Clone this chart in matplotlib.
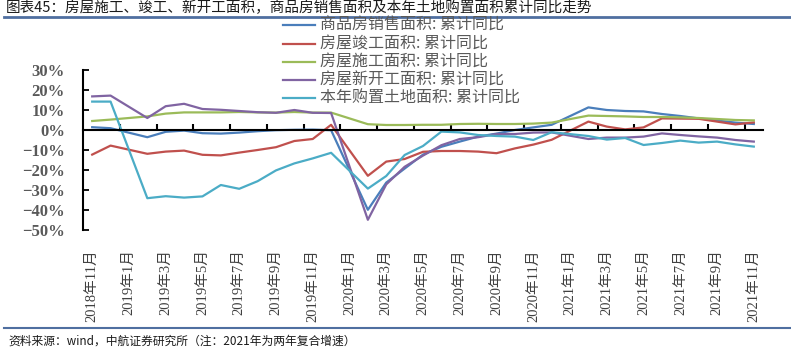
import numpy as np
import matplotlib
matplotlib.use("Agg")
import matplotlib.pyplot as plt
from matplotlib.lines import Line2D

nan = np.nan

# category axis: 2018-11 .. 2021-11, January has no data (Jan-Feb cumulative)
months = []
for y in (2018, 2019, 2020, 2021):
    for m in range(1, 13):
        if (y == 2018 and m < 11) or (y == 2021 and m > 11):
            continue
        months.append(f"{y}年{m}月")

sales = [1.4, 0.9, nan, -3.6, -0.9, -0.3, -1.6, -1.8, -1.3, -0.6, -0.1, 0.1, 0.2, -0.1,
         nan, -39.9, -26.3, -19.3, -12.3, -8.4, -5.8, -3.3, -1.8, 0.0, 1.3, 2.6,
         nan, 11.3, 10.0, 9.5, 9.3, 8.0, 7.0, 5.8, 4.7, 3.7, 3.0]
completed = [-12.3, -7.8, nan, -11.9, -10.8, -10.3, -12.4, -12.7, -11.3, -10.0, -8.6, -5.5, -4.5, 2.6,
             nan, -22.9, -15.8, -14.5, -10.9, -10.5, -10.5, -10.8, -11.6, -9.2, -7.3, -4.9,
             nan, 4.2, 1.7, 0.3, 1.3, 5.8, 5.7, 5.6, 4.2, 2.8, 3.8]
under_constr = [4.5, 5.2, nan, 6.8, 8.2, 8.8, 8.8, 8.8, 9.0, 8.8, 8.7, 9.0, 8.7, 8.7,
                nan, 2.9, 2.5, 2.5, 2.6, 2.6, 3.0, 3.1, 3.0, 3.0, 3.2, 3.7,
                nan, 7.2, 7.0, 6.8, 6.5, 6.5, 6.3, 6.0, 5.5, 5.0, 4.8]
new_starts = [16.8, 17.2, nan, 6.0, 11.9, 13.1, 10.5, 10.1, 9.5, 8.9, 8.6, 10.0, 8.6, 8.5,
              nan, -44.9, -27.2, -18.4, -12.8, -7.6, -4.5, -3.6, -2.0, -2.0, -1.3, -1.2,
              nan, -4.5, -3.8, -3.8, -3.3, -1.7, -2.5, -3.2, -3.8, -5.0, -5.8]
land = [14.2, 14.2, nan, -34.1, -33.1, -33.8, -33.2, -27.5, -29.4, -25.6, -20.2, -16.7, -14.2, -11.4,
        nan, -29.3, -23.0, -12.5, -8.0, -0.8, -1.2, -2.5, -3.0, -3.3, -5.0, -1.1,
        nan, -3.0, -4.8, -4.0, -7.5, -6.5, -5.3, -6.3, -5.8, -7.2, -8.3]

series = [
    ("商品房销售面积: 累计同比", sales, "#4A7EBB"),
    ("房屋竣工面积: 累计同比", completed, "#C0504D"),
    ("房屋施工面积: 累计同比", under_constr, "#9BBB59"),
    ("房屋新开工面积: 累计同比", new_starts, "#8064A2"),
    ("本年购置土地面积: 累计同比", land, "#4BACC6"),
]

title = "图表45：房屋施工、竣工、新开工面积，商品房销售面积及本年土地购置面积累计同比走势"
source = "资料来源：wind，中航证券研究所（注：2021年为两年复合增速）"

cjk = ["Noto Sans CJK SC", "DejaVu Sans"]
serif_cjk = ["Liberation Serif", "Noto Sans CJK SC"]
plt.rcParams["font.family"] = cjk

W, H = 791, 356
fig = plt.figure(figsize=(W / 100, H / 100), dpi=100)
ax = fig.add_axes([83 / W, 1 - 230 / H, 680 / W, 160 / H])

x = np.arange(len(months))
for name, vals, col in series:
    v = np.array(vals, dtype=float)
    ok = ~np.isnan(v)
    ax.plot(x[ok], v[ok], color=col, lw=1.6, solid_joinstyle="round")

ax.set_xlim(-0.5, len(months) - 0.5)
ax.set_ylim(-50, 30)

# y axis
ax.set_yticks(np.arange(-50, 31, 10))
ax.set_yticklabels([f"{v}%".replace("-", "−") for v in range(-50, 31, 10)],
                   family=serif_cjk, fontsize=12, color="#595959", fontweight="bold")
ax.tick_params(axis="y", direction="in", length=4, width=1.3, pad=13)
ax.spines["left"].set_linewidth(1.5)

# x axis: the line sits at zero, labels stay at the bottom
ax.spines["bottom"].set_visible(False)
ax.spines["right"].set_visible(False)
ax.spines["top"].set_position(("data", 0))
ax.spines["top"].set_linewidth(1.5)
ax.set_xticks(x[::2])
ax.set_xticklabels(months[::2], rotation=90, family=serif_cjk, fontsize=10.5,
                   color="#404040", va="top")
ax.set_xticks(np.arange(1.5, len(months) - 1, 2), minor=True)
ax.tick_params(axis="x", which="major", length=0, pad=14, top=False)
ax.tick_params(axis="x", which="minor", top=True, bottom=False, direction="out",
               length=4, width=1.5)

# legend drawn in figure space, overlapping the plot top
leg_y = [25, 43.5, 62, 80, 98]
for (name, vals, col), yy in zip(series, leg_y):
    fig.add_artist(Line2D([283 / W, 315 / W], [1 - yy / H] * 2, color=col, lw=1.6))
    fig.text(320 / W, 1 - yy / H, name, fontsize=11.5, color="#595959", va="center")

# header / footer
fig.text(6 / W, 1 - 8 / H, title, fontsize=10.5, va="center", color="#1a1a1a")
fig.add_artist(Line2D([4 / W, 1], [1 - 17 / H] * 2, color="#4F6FA0", lw=2))
fig.add_artist(Line2D([4 / W, 1], [1 - 328 / H] * 2, color="#4F6FA0", lw=1.5))
fig.text(8 / W, 1 - 341 / H, source, fontsize=8.5, va="center", color="#1a1a1a")

fig.savefig("out.png", dpi=100)
